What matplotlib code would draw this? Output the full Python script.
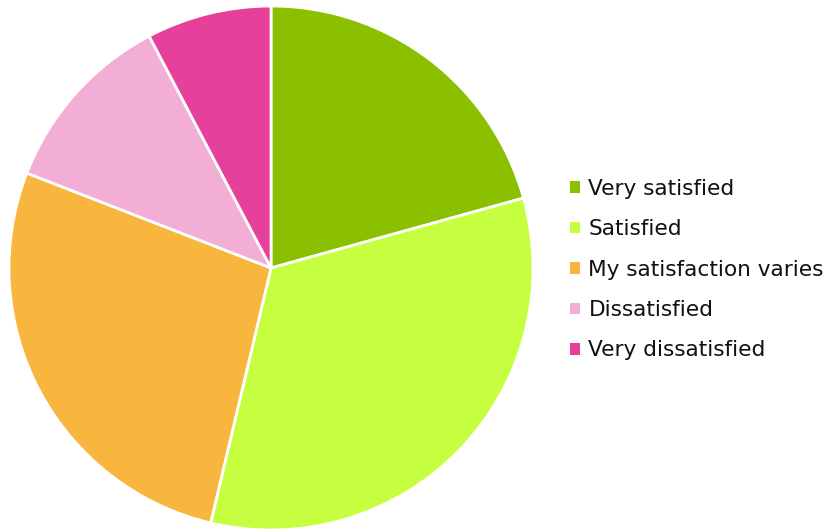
import matplotlib.pyplot as plt
from matplotlib.patches import Patch

# Survey answers, share of respondents (%)
labels = ["Very satisfied", "Satisfied", "My satisfaction varies",
          "Dissatisfied", "Very dissatisfied"]
shares = [20.7, 33.0, 27.2, 11.4, 7.7]
colors = ["#8bc000", "#c6ff40", "#f8b63e", "#f3aed6", "#e6409a"]

W, H = 829, 532
fig = plt.figure(figsize=(W / 100, H / 100), dpi=100)

# pie centred at (271, 268) px, radius 262 px
cx, cy, r = 271, 268, 262
ax = fig.add_axes([(cx - r) / W, (H - cy - r) / H, 2 * r / W, 2 * r / H])
ax.pie(shares, colors=colors, startangle=90, counterclock=False, radius=1,
       wedgeprops=dict(edgecolor="white", linewidth=2))
ax.set_xlim(-1, 1)
ax.set_ylim(-1, 1)
ax.set_aspect("equal")
ax.axis("off")

handles = [Patch(facecolor=c, edgecolor="none") for c in colors]
fig.legend(handles, labels, loc="upper left", bbox_to_anchor=(570 / W, 1 - 179 / H),
           frameon=False, fontsize=15.6, handlelength=0.45, handleheight=0.45,
           handletextpad=0.4, labelspacing=0.94, borderaxespad=0, borderpad=0,
           labelcolor="#111111")

fig.savefig("out.png", dpi=100)
